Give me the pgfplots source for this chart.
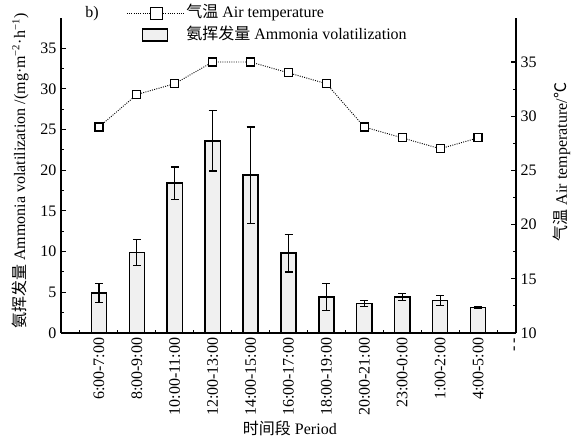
\documentclass[border=0pt]{standalone}
\usepackage{pgfplots}
\pgfplotsset{compat=1.18}
\usepackage{pgfplotstable}
\usepackage{fontspec}
\setmainfont{Liberation Serif}
\newfontfamily\cjk{Noto Sans CJK SC}

% ammonia volatilization, mean and error
\pgfplotstableread{
x y e
1 4.9 1.15
2 9.9 1.6
3 18.4 2.0
4 23.6 3.7
5 19.4 5.9
6 9.8 2.3
7 4.4 1.65
8 3.65 0.35
9 4.45 0.43
10 3.97 0.63
11 3.16 0.1
}\nh

\pgfplotsset{
  base/.style={
    scale only axis, width=341.25pt, height=236.25pt,
    xmin=0, xmax=12,
    tick align=inside,
    major tick length=4pt, minor tick length=2.5pt,
    every tick/.style={black, line width=0.8pt},
    axis line style={line width=1pt},
    /pgf/number format/assume math mode=true,
  },
}

\begin{document}
\begin{tikzpicture}[font=\fontsize{12}{14.4}\selectfont]
\begin{axis}[base, name=ax1, clip=false,
  ymin=0, ymax=38.7,
  axis y line*=left, axis x line*=bottom,
  xtick={1,...,12},
  xticklabels={6:00-7:00, 8:00-9:00, 10:00-11:00, 12:00-13:00, 14:00-15:00,
    16:00-17:00, 18:00-19:00, 20:00-21:00, 23:00-0:00, 1:00-2:00, 4:00-5:00, -\,-},
  xticklabel style={rotate=90, anchor=east},
  major x tick style={draw=none},
  minor xtick={0.5,1.5,...,11.5},
  ytick={0,5,...,35}, minor y tick num=1,
  xlabel={{\cjk 时间段} Period},
  xlabel style={at={(axis description cs:0.503,-0.302)}, anchor=center},
  ylabel={{\cjk 氨挥发量} Ammonia volatilization /(mg·m\textsuperscript{−2}·h\textsuperscript{−1})},
  ylabel style={at={(axis description cs:-0.090,0.514)}, anchor=center},
]
\addplot[ybar, bar width=0.4, draw=black, line width=1.1pt, fill=gray!12,
  error bars/.cd, y dir=both, y explicit, error mark=|,
  error bar style={black, line width=0.9pt},
  error mark options={black, mark size=3pt, line width=0.9pt}]
  table[x=x, y=y, y error=e] {\nh};
\node at (axis description cs:0.068,1.013) {b)};
\end{axis}

\begin{axis}[base, name=ax2, at={(ax1.south west)}, anchor=south west,
  ymin=10, ymax=39.06,
  axis y line*=right, axis x line=none,
  ytick={10,15,...,35}, minor y tick num=1,
  ylabel={{\cjk 气温} Air temperature/{\cjk ℃}},
  ylabel style={at={(axis description cs:1.101,0.543)}, anchor=center},
  legend style={at={(axis description cs:0.143,1.048)}, anchor=north west,
    draw=none, fill=none, inner sep=0pt, row sep=1.5pt,
    nodes={inner sep=1.5pt, text height=9pt, text depth=3pt}},
  legend cell align=left,
]
\addplot[black, densely dotted, line width=0.7pt,
  mark=square*, mark size=3pt,
  mark options={solid, fill=white, draw=black, line width=0.9pt},
  legend image code/.code={
    \draw[densely dotted, line width=0.7pt] (0pt,0pt) -- (42.75pt,0pt);
    \draw[solid, fill=white, line width=0.9pt] (18pt,-4.5pt) rectangle (27pt,4.5pt);}]
  coordinates {(1,29)(2,32)(3,33)(4,35)(5,35)(6,34)(7,33)(8,29)(9,28)(10,27)(11,28)};
\addlegendentry{{\cjk 气温} Air temperature}
\addlegendimage{legend image code/.code={
    \draw[fill=gray!12, line width=1pt] (12pt,-4.5pt) rectangle (30.75pt,4.5pt);}}
\addlegendentry{{\cjk 氨挥发量} Ammonia volatilization}
\end{axis}
\pgfresetboundingbox
\path[use as bounding box] (ax1.south west) ++(-45.75pt,-81pt) rectangle ++(438pt,330.75pt);
\end{tikzpicture}
\end{document}
